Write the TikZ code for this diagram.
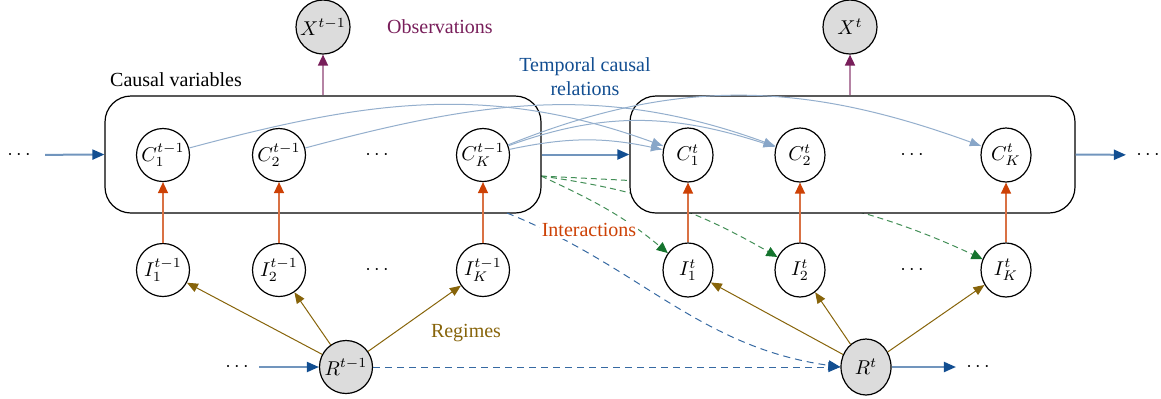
\documentclass[tikz,border=0pt]{standalone}
\usepackage{fontspec}
\setmainfont{Liberation Serif}
\usetikzlibrary{arrows.meta,shapes.geometric}
\definecolor{cblue}{RGB}{18,78,145}
\definecolor{cpurple}{RGB}{120,30,90}
\definecolor{corange}{RGB}{205,65,5}
\definecolor{colive}{RGB}{135,100,10}
\definecolor{cgreen}{RGB}{20,115,45}
\definecolor{cgray}{RGB}{220,220,220}
\begin{document}
\begin{tikzpicture}[x=0.5pt,y=-0.5pt,
  var/.style={circle,draw,line width=0.6pt,minimum size=26.5pt,inner sep=0pt,fill=white},
  evar/.style={ellipse,draw,line width=0.6pt,minimum width=25pt,minimum height=27pt,inner sep=0pt,fill=white},
  obs/.style={fill=cgray},
  box/.style={draw,rounded corners=13pt,line width=0.6pt,fill=white,minimum height=58.5pt},
  mainarrow/.style={draw=cblue!60,line width=1pt,-{Triangle[length=6pt,width=5pt,color=cblue]}},
  intarrow/.style={draw=corange!75,line width=0.7pt,-{Triangle[length=5.5pt,width=5pt,color=corange]}},
  regarrow/.style={draw=colive,line width=0.5pt,-{Triangle[length=5.5pt,width=4.5pt,color=colive]}},
  obsarrow/.style={draw=cpurple!55,line width=0.8pt,-{Triangle[length=5.5pt,width=5pt,color=cpurple]}},
  temparrow/.style={draw=cblue!45,line width=0.5pt,-{Latex[length=6pt,width=4.5pt,color=cblue!50]}},
  greenarrow/.style={draw=cgreen!80,line width=0.5pt,dash pattern=on 3pt off 2pt,-{Triangle[length=5.5pt,width=5pt,color=cgreen]}},
  bluedash/.style={draw=cblue!85,line width=0.5pt,dash pattern=on 3.5pt off 2.5pt,-{Triangle[length=6pt,width=5pt,color=cblue]}},
  dotsnode/.style={inner sep=0pt},
  lbl/.style={font=\normalsize}
]
\useasboundingbox (0,0) rectangle (1161,398);

% interaction and regime nodes
\node[var] (i11) at (163,270) {$I_1^{t-1}$};
\node[var] (i21) at (279,270) {$I_2^{t-1}$};
\node[dotsnode] (id1) at (377,270) {$\cdots$};
\node[var] (iK1) at (483,270) {$I_K^{t-1}$};
\node[evar] (i12) at (688,270) {$I_1^{t}$};
\node[evar] (i22) at (800,270) {$I_2^{t}$};
\node[dotsnode] (id2) at (912,270) {$\cdots$};
\node[evar] (iK2) at (1006,270) {$I_K^{t}$};
\node[var,obs] (r1) at (346,367) {$R^{t-1}$};
\node[evar,obs,minimum height=28pt] (r2) at (866,367) {$R^{t}$};

% green interaction curves (partly hidden by the right box)
\coordinate (gs) at (541,176);
\draw[greenarrow] (gs) to[out=-25,in=140] (i12);
\draw[greenarrow] (gs) to[out=-8,in=150] (i22);
\draw[greenarrow] (gs) to[out=-3,in=155] (iK2);

% boxes
\node[box,minimum width=218pt] (lbox) at (323,154.5) {};
\node[box,minimum width=222.5pt] (rbox) at (852.5,154.5) {};

% causal variables
\node[var] (c11) at (163,155) {$C_1^{t-1}$};
\node[var] (c21) at (279,155) {$C_2^{t-1}$};
\node[dotsnode] (cd1) at (377,155) {$\cdots$};
\node[var] (cK1) at (483,155) {$C_K^{t-1}$};
\node[evar] (c12) at (688,155) {$C_1^{t}$};
\node[evar] (c22) at (800,155) {$C_2^{t}$};
\node[dotsnode] (cd2) at (912,155) {$\cdots$};
\node[evar] (cK2) at (1006,155) {$C_K^{t}$};

% observations
\node[var,obs,minimum size=27pt] (x1) at (323,27) {$X^{t-1}$};
\node[var,obs,minimum size=27pt] (x2) at (850,27) {$X^{t}$};

% dots at the ends
\node[dotsnode] (dl) at (19,155) {$\cdots$};
\node[dotsnode] (dr) at (1148,155) {$\cdots$};
\node[dotsnode] (dRl) at (237,367) {$\cdots$};
\node[dotsnode] (dRr) at (978,367) {$\cdots$};

% main temporal arrows
\draw[mainarrow,shorten <=7pt] (dl) -- (lbox.west);
\draw[mainarrow] (lbox.east) -- (rbox.west);
\draw[mainarrow,shorten >=5pt] (rbox.east) -- (dr);
\draw[mainarrow,shorten <=5pt] (dRl) -- (r1);
\draw[mainarrow,shorten >=5pt] (r2) -- (dRr);

% observation arrows
\draw[obsarrow] (lbox.north) -- (x1);
\draw[obsarrow] (x2 |- rbox.north) -- (x2);

% interaction arrows
\draw[intarrow] (i11) -- (c11);
\draw[intarrow] (i21) -- (c21);
\draw[intarrow] (iK1) -- (cK1);
\draw[intarrow] (i12) -- (c12);
\draw[intarrow] (i22) -- (c22);
\draw[intarrow] (iK2) -- (cK2);

% regime arrows
\draw[regarrow] (r1) -- (i11);
\draw[regarrow] (r1) -- (i21);
\draw[regarrow] (r1) -- (iK1);
\draw[regarrow] (r2) -- (i12);
\draw[regarrow] (r2) -- (i22);
\draw[regarrow] (r2) -- (iK2);

% regime transitions
\coordinate (bs) at (507,213);
\draw[bluedash] (bs) to[out=-22,in=172] (r2.west);
\draw[bluedash] (r1) -- (r2.west);

% temporal causal relations
\draw[temparrow] (c11) to[out=15,in=160] (c12);
\draw[temparrow] (c21) to[out=15,in=160] (c22);
\draw[temparrow] (cK1) to[out=12,in=168] (c12);
\draw[temparrow] (cK1) to[out=20,in=162] (c22);
\draw[temparrow] (cK1) to[out=22,in=160] (cK2);

% labels
\node[lbl,text=cpurple] (tobs) at (440,27) {Observations};
\node[lbl] (tcv) at (176,80) {Causal variables};
\node[lbl,text=cblue,align=center] (ttc) at (585,77) {Temporal causal\\relations};
\node[lbl,text=corange,fill=white,inner sep=1pt] (tint) at (589,230) {Interactions};
\node[lbl,text=colive] (treg) at (466,333) {Regimes};
\end{tikzpicture}
\end{document}
